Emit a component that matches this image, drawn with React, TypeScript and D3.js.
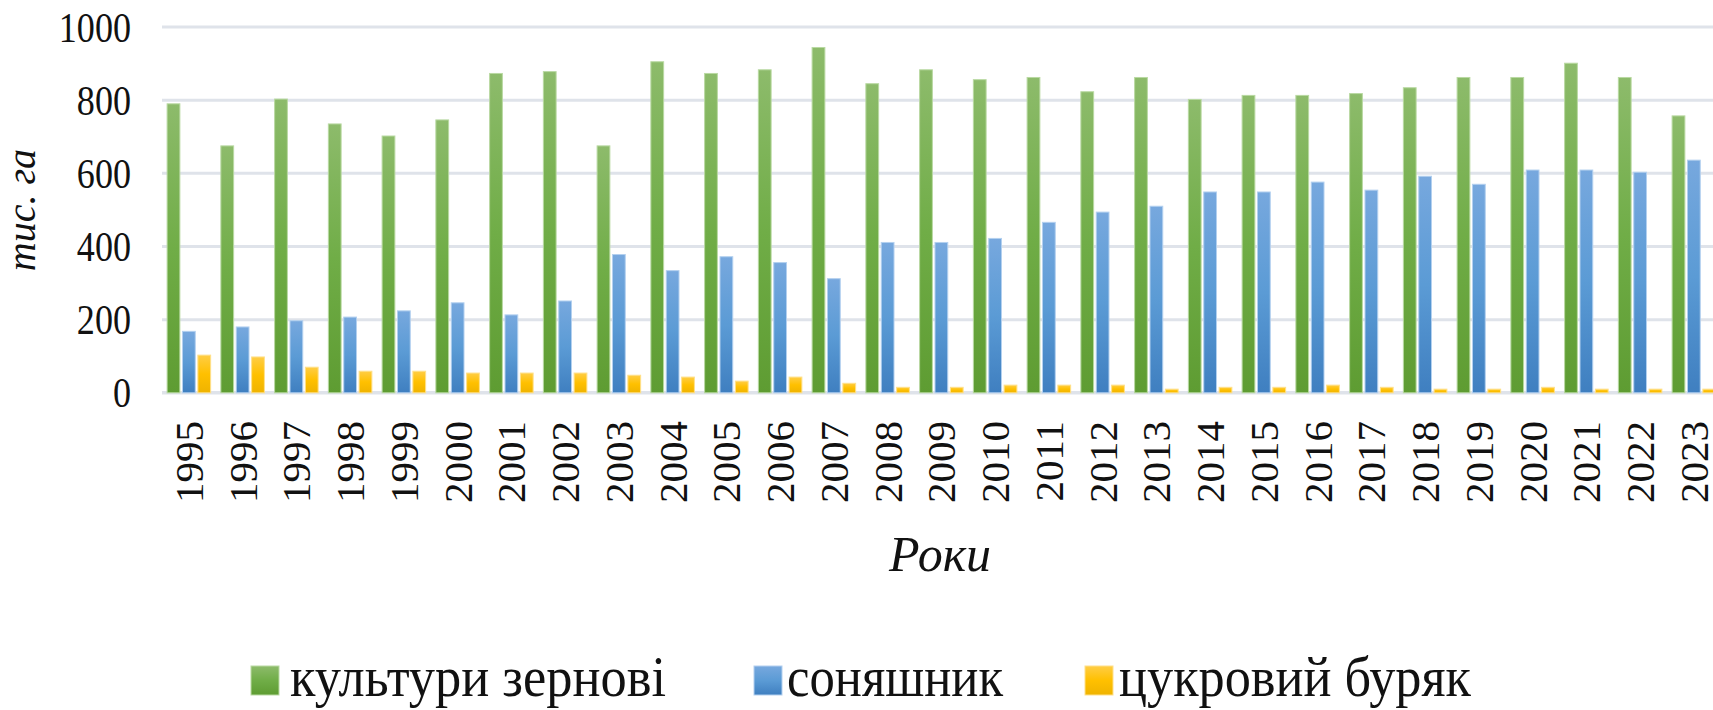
import React from "react";
import * as d3 from "d3";

const years = ["1995","1996","1997","1998","1999","2000","2001","2002","2003","2004","2005","2006","2007","2008","2009","2010","2011","2012","2013","2014","2015","2016","2017","2018","2019","2020","2021","2022","2023"];
const grain = [790,675,803,735,702,746,873,878,675,905,873,883,944,845,883,856,862,823,862,802,813,813,818,834,862,862,901,862,757];
const sunflower = [168,180,197,207,224,246,213,251,378,334,372,356,312,411,411,422,466,494,510,549,549,576,554,592,570,609,609,603,636];
const beet = [103,98,70,59,59,54,54,54,48,43,32,43,26,15,15,21,21,21,10,15,15,21,15,10,10,15,10,10,10];
const yTicks = [0, 200, 400, 600, 800, 1000];
const seriesNames = ["культури зернові", "соняшник", "цукровий буряк"];

const seriesStyles = [
  { id: "gGreen", top: "#8dbb6b", mid: "#70ad47", bot: "#5e9c32", stroke: "#b9d9a2" },
  { id: "gBlue", top: "#77a8de", mid: "#5b9bd5", bot: "#3f7fc0", stroke: "#b3d0ef" },
  { id: "gYellow", top: "#ffcd45", mid: "#ffc000", bot: "#efb300", stroke: "#ffe08a" },
];

const W = 1713;
const H = 710;
const FONT = "'Liberation Serif', 'Times New Roman', serif";

export default function App() {
  const x = d3.scaleBand<string>().domain(years).range([162, 1720.75]).paddingInner(0.19).paddingOuter(0.095);
  const seriesKeys = ["0", "1", "2"];
  const xs = d3.scaleBand<string>().domain(seriesKeys).range([0, x.bandwidth()]).paddingInner(0.17);
  const y = d3.scaleLinear().domain([0, 1000]).range([392.8, 27]);
  const data = [grain, sunflower, beet];

  const legendItems = [
    { sx: 251, tx: 290, tl: 376 },
    { sx: 754, tx: 787, tl: 216 },
    { sx: 1085, tx: 1119, tl: 352 },
  ];

  return (
    <svg width={W} height={H} style={{ position: "absolute", left: 0, top: 0, background: "#fff" }}>
      <defs>
        {seriesStyles.map((s) => (
          <linearGradient key={s.id} id={s.id} x1="0" y1="0" x2="0" y2="1">
            <stop offset="0" stopColor={s.top} />
            <stop offset="0.5" stopColor={s.mid} />
            <stop offset="1" stopColor={s.bot} />
          </linearGradient>
        ))}
      </defs>
      <rect x={0} y={0} width={W} height={H} fill="#fff" />
      {yTicks.map((t) => (
        <line key={t} x1={162} x2={W} y1={y(t)} y2={y(t)} stroke="#dfe3ea" strokeWidth={t === 0 ? 3.5 : 3} />
      ))}
      {yTicks.map((t) => (
        <g key={"yl" + t} transform={`translate(131,${y(t) + 14.5}) scale(0.86,1)`}>
          <text textAnchor="end" fontFamily={FONT} fontSize={42} fill="#111">{t}</text>
        </g>
      ))}
      {years.map((yr, i) => (
        <g key={yr} transform={`translate(${x(yr)},0)`}>
          {data.map((arr, s) => (
            <rect
              key={s}
              x={xs(String(s))}
              y={y(arr[i])}
              width={xs.bandwidth()}
              height={y(0) - y(arr[i])}
              fill={`url(#${seriesStyles[s].id})`}
              stroke={seriesStyles[s].stroke}
              strokeWidth={1}
            />
          ))}
        </g>
      ))}
      {years.map((yr) => (
        <text
          key={"xl" + yr}
          transform={`translate(${(x(yr) as number) + x.bandwidth() / 2 + 14},421) rotate(-90)`}
          textAnchor="end"
          fontFamily={FONT}
          fontSize={41}
          fill="#111"
        >
          {yr}
        </text>
      ))}
      <text transform="translate(35,210) rotate(-90)" textAnchor="middle" fontFamily={FONT} fontStyle="italic" fontSize={40} fill="#111">
        тис. га
      </text>
      <text x={940} y={571} textAnchor="middle" fontFamily={FONT} fontStyle="italic" fontSize={50} fill="#111">
        Роки
      </text>
      {seriesNames.map((name, s) => (
        <g key={name}>
          <rect x={legendItems[s].sx} y={666} width={28} height={29} fill={`url(#${seriesStyles[s].id})`} stroke={seriesStyles[s].stroke} strokeWidth={1} />
          <text
            x={legendItems[s].tx}
            y={696}
            fontFamily={FONT}
            fontSize={56}
            fill="#111"
            textLength={legendItems[s].tl}
            lengthAdjust="spacingAndGlyphs"
          >
            {name}
          </text>
        </g>
      ))}
    </svg>
  );
}
